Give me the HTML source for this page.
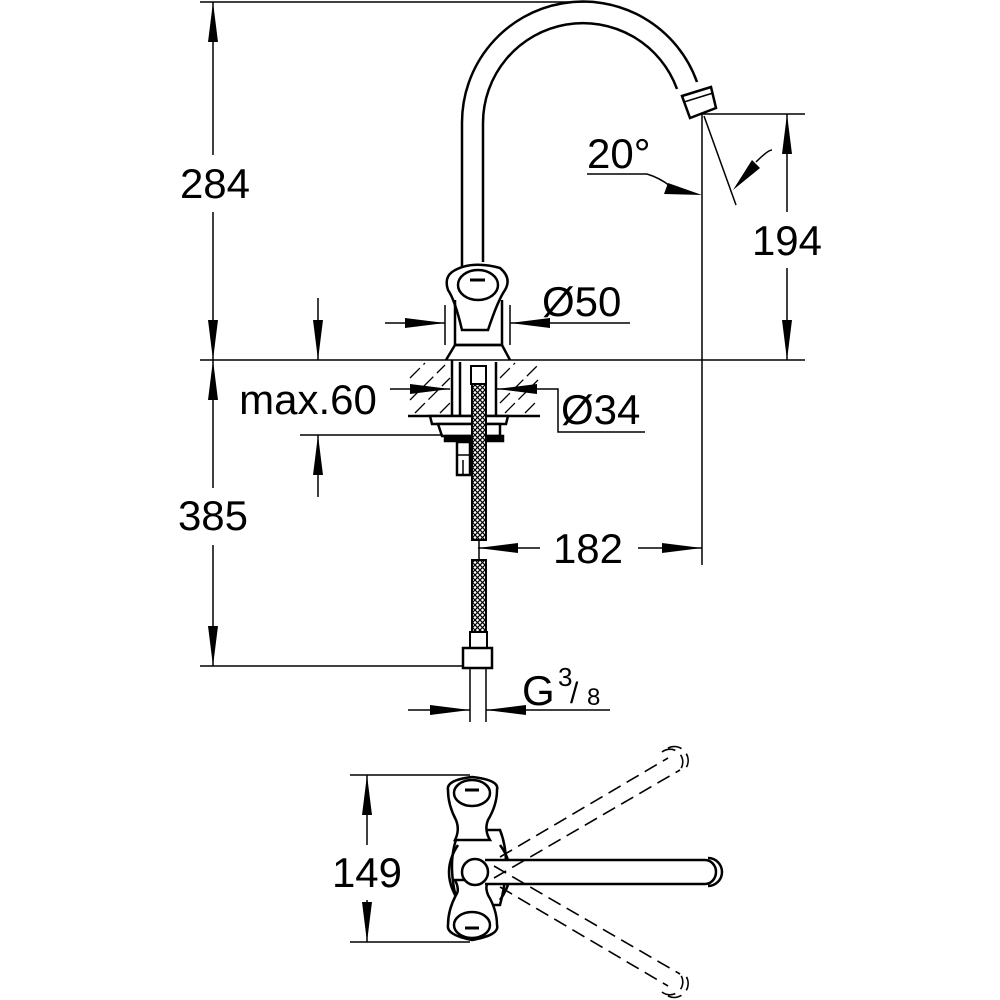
<!DOCTYPE html>
<html><head><meta charset="utf-8"><style>
html,body{margin:0;padding:0;background:#fff;width:1000px;height:1000px;overflow:hidden}
svg{display:block}
text{font-family:"Liberation Sans",sans-serif;fill:#000}
</style></head><body>
<svg width="1000" height="1000" viewBox="0 0 1000 1000" xmlns="http://www.w3.org/2000/svg">
<defs>
<pattern id="braid" width="5" height="5" patternUnits="userSpaceOnUse">
<rect width="5" height="5" fill="#fff"/>
<path d="M0,0L5,5M5,0L0,5" stroke="#000" stroke-width="1.2"/>
</pattern>
</defs>
<g stroke="#000" stroke-width="1.5" fill="none">
<line x1="200" y1="2" x2="585" y2="2"/>
<line x1="200" y1="360" x2="805" y2="360"/>
<line x1="200" y1="666" x2="470" y2="666"/>
<line x1="702" y1="114" x2="702" y2="565"/>
<line x1="702" y1="114" x2="805" y2="114"/>
<line x1="704" y1="116" x2="736" y2="205"/>
</g>
<g fill="#000">
<path d="M213,2 L208,42 L218,42Z"/><path d="M213,360 L208,320 L218,320Z"/>
<path d="M213,360 L208,400 L218,400Z"/><path d="M213,666 L208,626 L218,626Z"/>
<path d="M787,114 L782,154 L792,154Z"/><path d="M787,360 L782,320 L792,320Z"/>
<path d="M318,360 L313,320 L323,320Z"/><path d="M318,435 L313,475 L323,475Z"/>
<path d="M445,323 L405,318 L405,328Z"/><path d="M510,323 L550,318 L550,328Z"/>
<path d="M450,389 L410,384 L410,394Z"/><path d="M497,389 L537,384 L537,394Z"/>
<path d="M478,548 L518,543 L518,553Z"/><path d="M702,548 L662,543 L662,553Z"/>
<path d="M470,710 L430,705 L430,715Z"/><path d="M486,710 L526,705 L526,715Z"/>
<path d="M367,775 L362,815 L372,815Z"/><path d="M367,942 L362,902 L372,902Z"/>
<path d="M702,195 L668,183 L664,194Z"/><path d="M733,190 L760,168 L752,160Z"/>
</g>
<g stroke="#000" stroke-width="1.5" fill="none">
<line x1="213" y1="2" x2="213" y2="155"/><line x1="213" y1="212" x2="213" y2="360"/>
<line x1="213" y1="360" x2="213" y2="488"/><line x1="213" y1="545" x2="213" y2="666"/>
<line x1="787" y1="114" x2="787" y2="212"/><line x1="787" y1="268" x2="787" y2="360"/>
<line x1="318" y1="298" x2="318" y2="360"/><line x1="318" y1="435" x2="318" y2="497"/>
<line x1="300" y1="435" x2="450" y2="435"/>
<line x1="385" y1="323" x2="445" y2="323"/><line x1="510" y1="323" x2="630" y2="323"/>
<line x1="445" y1="305" x2="445" y2="345"/><line x1="510" y1="305" x2="510" y2="345"/>
<line x1="390" y1="389" x2="450" y2="389"/>
<polyline points="497,389 558,389 558,432 645,432"/>
<line x1="478" y1="548" x2="540" y2="548"/><line x1="638" y1="548" x2="702" y2="548"/>
<line x1="408" y1="710" x2="470" y2="710"/><line x1="486" y1="710" x2="610" y2="710"/>
<line x1="470" y1="668" x2="470" y2="722"/><line x1="486" y1="668" x2="486" y2="722"/>
<line x1="350" y1="775" x2="470" y2="775"/><line x1="350" y1="942" x2="470" y2="942"/>
<line x1="367" y1="775" x2="367" y2="845"/><line x1="367" y1="900" x2="367" y2="942"/>
<polyline points="587,174 647,174"/><path d="M647,174 Q660,178 670,186"/>
<path d="M756,162 Q768,150 772,150"/>
</g>
<g font-size="42">
<text x="215" y="198" text-anchor="middle">284</text>
<text x="213" y="530" text-anchor="middle">385</text>
<text x="787" y="255" text-anchor="middle">194</text>
<text x="367" y="887" text-anchor="middle">149</text>
<text x="308" y="414" text-anchor="middle">max.60</text>
<text x="587" y="168">20°</text>
<text x="542" y="316">Ø50</text>
<text x="561" y="424">Ø34</text>
<text x="588" y="563" text-anchor="middle">182</text>
<text x="522" y="705">G</text>
</g>
<text x="558" y="686" font-size="26">3</text>
<text x="570" y="703" font-size="30">/</text>
<text x="587" y="705" font-size="24">8</text>
<g stroke="#000" stroke-width="2.5" fill="none">
<path d="M462,268 L462,123 A121,121 0 0 1 697,82"/>
<path d="M483,262 L483,123 A100,100 0 0 1 677,89"/>
<path d="M682,96 L711,87 L716,108 L690,118 Z" fill="#fff"/>
<line x1="684" y1="102" x2="713" y2="93" stroke-width="1.5"/>
<path d="M452,272 Q470,260 500,268 Q512,278 505,290 Q498,300 488,330 L462,330 Q455,300 448,290 Q444,278 452,272Z" fill="#fff"/>
<ellipse cx="478" cy="285" rx="20" ry="15"/>
<line x1="470" y1="280" x2="485" y2="280" stroke-width="3"/>
<path d="M455,300 L455,345 L502,345 L502,300" />
<path d="M446,360 L455,345 L502,345 L510,360"/>
</g>
<g stroke="#000" stroke-width="1.3" fill="none" stroke-dasharray="14,5">
<line x1="410" y1="378" x2="425" y2="363"/><line x1="410" y1="400" x2="445" y2="365"/>
<line x1="415" y1="413" x2="450" y2="378"/><line x1="440" y1="413" x2="450" y2="403"/>
<line x1="500" y1="378" x2="515" y2="363"/><line x1="500" y1="403" x2="538" y2="365"/>
<line x1="505" y1="413" x2="538" y2="380"/><line x1="525" y1="413" x2="538" y2="400"/>
</g>
<g stroke="#000" stroke-width="2.5" fill="none">
<line x1="408" y1="416" x2="540" y2="416"/>
<line x1="452" y1="360" x2="452" y2="416"/><line x1="460" y1="362" x2="460" y2="416"/>
<line x1="496" y1="362" x2="496" y2="416"/>
<path d="M430,416 L508,416 L506,424 L432,424Z" fill="#fff"/>
<path d="M438,424 L500,424 L500,436 L442,436Z" fill="#fff"/>
<rect x="445" y="436" width="58" height="5" fill="#000"/>
<rect x="457" y="442" width="13" height="33" fill="#fff"/>
<line x1="457" y1="455" x2="470" y2="455" stroke-width="1.5"/>
<line x1="463" y1="460" x2="463" y2="475" stroke-width="1.5"/>
</g>
<rect x="472" y="382" width="14" height="158" fill="url(#braid)" stroke="#000" stroke-width="2"/>
<rect x="471" y="366" width="15" height="18" fill="#fff" stroke="#000" stroke-width="2"/>
<rect x="472" y="560" width="14" height="72" fill="url(#braid)" stroke="#000" stroke-width="2"/>
<rect x="470" y="632" width="17" height="16" fill="#fff" stroke="#000" stroke-width="2"/>
<rect x="463" y="648" width="29" height="20" fill="#fff" stroke="#000" stroke-width="2.5"/>
<line x1="479" y1="540" x2="479" y2="560" stroke="#000" stroke-width="1.5"/>
<g stroke="#000" stroke-width="2.5" fill="none">
<path d="M460,830 Q445,860 458,905 L500,905 Q512,860 500,830Z" fill="#fff"/>
<path d="M458,845 Q440,872 458,900" />
<path d="M500,845 Q520,872 500,900" />
<path d="M448,790 Q446,780 472,777 Q500,780 497,790 Q497,805 488,820 Q484,830 490,840 L455,840 Q460,830 456,820 Q448,805 448,790Z" fill="#fff"/>
<ellipse cx="472" cy="793" rx="18" ry="13"/>
<line x1="465" y1="790" x2="479" y2="790" stroke-width="3"/>
<path d="M448,925 Q446,935 472,940 Q500,935 497,925 Q497,910 488,895 Q484,885 490,880 L455,880 Q460,890 456,895 Q448,910 448,925Z" fill="#fff"/>
<ellipse cx="472" cy="925" rx="18" ry="13"/>
<line x1="465" y1="928" x2="479" y2="928" stroke-width="3"/>
<path d="M485,860 L705,860 A11,12 0 0 1 705,884 L485,884" fill="#fff"/>
<path d="M708,858 A14,14 0 0 1 708,886"/>
<circle cx="475" cy="872" r="13" fill="#fff"/>
</g>
<g stroke="#000" stroke-width="1.6" fill="none" stroke-dasharray="14,7">
<line x1="500" y1="857" x2="668" y2="758"/><line x1="494" y1="878" x2="680" y2="770"/>
<line x1="500" y1="887" x2="668" y2="986"/><line x1="494" y1="866" x2="680" y2="974"/>
<path d="M662,752 A12,12 0 0 1 678,772"/><path d="M668,748 A14,14 0 0 1 686,768"/>
<path d="M662,992 A12,12 0 0 0 678,972"/><path d="M668,996 A14,14 0 0 0 686,976"/>
</g>
</svg>
</body></html>
